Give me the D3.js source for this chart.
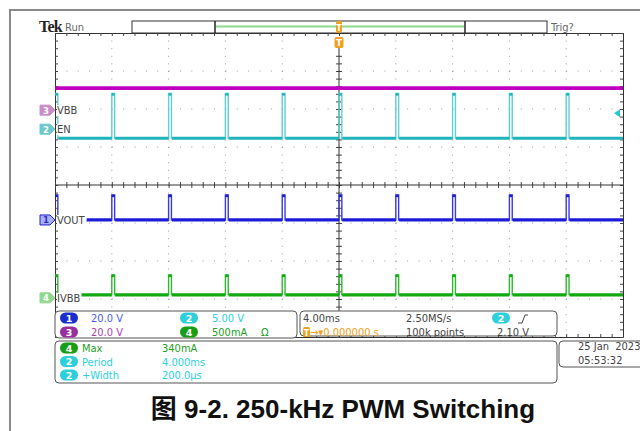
<!DOCTYPE html>
<html><head><meta charset="utf-8">
<script src="https://cdn.jsdelivr.net/npm/d3@7"></script>
<style>
html,body{margin:0;padding:0;background:#fff;}
svg{display:block;}
.mono{font-family:"DejaVu Sans Condensed","DejaVu Sans",sans-serif;font-size:11px;}
</style></head><body>
<svg id="c" width="640" height="431"></svg>
<script>
// ---- data ----
const channelNames = ["VOUT", "EN", "VBB", "IVBB"];
const channelNumbers = [1, 2, 3, 4];
const unitsPerDiv = [20, 5, 20, 500];            // V/div, V/div, V/div, mA/div
const groundDiv = [-0.92, 1.47, 1.97, -2.97];     // channel offsets (div)
const lowLevels = [0, -1.2, 11.6, 40];            // V / mA
const highLevels = [13.2, 4.7, 11.6, 303];        // V / mA
const pulseStarts = [-20, -16, -12, -8, -4, 0, 4, 8, 12, 16]; // ms
const pulseWidth = 0.2;                            // ms
const timeDomain = [-20, 20];                      // ms (4.00 ms/div)
const triggerLevel = 2.10;                         // V on CH2
const scaleRow1 = ["20.0 V", "5.00 V"];
const scaleRow2 = ["20.0 V", "500mA"];
const measNames = ["Max", "Period", "+Width"];
const measChannels = [4, 2, 2];
const measValues = ["340mA", "4.000ms", "200.0\u00b5s"];
const horizInfo = ["4.00ms", "2.50MS/s", "100k points", "2.10 V"];
const dateInfo = ["25 Jan  2023", "05:53:32"];
const caption = "图 9-2. 250-kHz PWM Switching";

// ---- style ----
const traceColors = ["#1c1cd8", "#1fb3bc", "#c000c0", "#12a812"];
const pulseColors = ["#3a3ae0", "#5fcfd6", "#c000c0", "#30b830"];
const tagFill = ["#a8b0f4", "#6cc8cc", "#c88ec8", "#8fd88f"];
const badgeFill = ["#1a2ed0", "#2dd0da", "#9a2ea0", "#169e16"];
const textColors = ["#4b5cff", "#2cd0dc", "#b040b0", "#22a022"];
const orange = "#f0a020";

const svg = d3.select("#c");
const x = d3.scaleLinear().domain(timeDomain).range([55, 623]);
const yDiv = d3.scaleLinear().domain([-4, 4]).range([337, 33]);
const yCh = i => v => yDiv(groundDiv[i] + v / unitsPerDiv[i]);

// outer frame
svg.append("path").attr("d", "M10,431V10H640").attr("fill", "none").attr("stroke", "#8a8a8a").attr("stroke-width", 2);

// ---- grid ----
const g = svg.append("g");
const majorX = d3.range(-16, 20, 4);
const majorY = d3.range(-3, 4, 1);
majorX.filter(t => t !== 0).forEach(t => {
  g.append("line").attr("x1", x(t)).attr("x2", x(t)).attr("y1", 33).attr("y2", 337)
    .attr("stroke", "#9a9a9a").attr("stroke-width", 1).attr("stroke-dasharray", "1,6.6");
});
majorY.filter(d => d !== 0).forEach(d => {
  g.append("line").attr("x1", 55).attr("x2", 623).attr("y1", yDiv(d)).attr("y2", yDiv(d))
    .attr("stroke", "#9a9a9a").attr("stroke-width", 1).attr("stroke-dasharray", "1,10.36");
});
const minorT = d3.range(-20, 20.001, 0.8);
const minorD = d3.range(-4, 4.001, 0.2);
const axStyle = s => { s.select(".domain").attr("stroke", "#333"); s.selectAll(".tick line").attr("stroke", "#444"); s.selectAll("text").remove(); };
g.append("g").attr("transform", "translate(0,33)").call(d3.axisBottom(x).tickValues(minorT).tickSize(3).tickSizeOuter(0)).call(axStyle);
g.append("g").attr("transform", "translate(0,337)").call(d3.axisTop(x).tickValues(minorT).tickSize(3).tickSizeOuter(0)).call(axStyle);
g.append("g").attr("transform", "translate(55,0)").call(d3.axisRight(yDiv).tickValues(minorD).tickSize(3).tickSizeOuter(0)).call(axStyle);
g.append("g").attr("transform", "translate(623,0)").call(d3.axisLeft(yDiv).tickValues(minorD).tickSize(3).tickSizeOuter(0)).call(axStyle);
// center cross
g.append("g").attr("transform", `translate(0,${yDiv(0) - 3})`).call(d3.axisBottom(x).tickValues(minorT).tickSize(6).tickSizeOuter(0)).call(axStyle).select(".domain").remove();
g.append("line").attr("x1", 55).attr("x2", 623).attr("y1", yDiv(0)).attr("y2", yDiv(0)).attr("stroke", "#333");
g.append("g").attr("transform", `translate(${x(0) - 3},0)`).call(d3.axisRight(yDiv).tickValues(minorD.filter(d => d < 3.6)).tickSize(6).tickSizeOuter(0)).call(axStyle).select(".domain").remove();
g.append("line").attr("x1", x(0)).attr("x2", x(0)).attr("y1", 48).attr("y2", 337).attr("stroke", "#333");

// ---- traces ----
function tracePath(i) {
  const y = yCh(i);
  const pts = [[timeDomain[0], highLevels[i]]];
  pulseStarts.forEach((t, k) => {
    if (t > timeDomain[0]) { pts.push([t, lowLevels[i]]); pts.push([t, highLevels[i]]); }
    pts.push([t + pulseWidth, highLevels[i]]);
    pts.push([t + pulseWidth, lowLevels[i]]);
  });
  pts.push([timeDomain[1], lowLevels[i]]);
  return d3.line().x(d => x(d[0])).y(d => y(d[1]))(pts);
}
function lowSegments(i) {
  const segs = [];
  pulseStarts.forEach((t, k) => {
    const end = k + 1 < pulseStarts.length ? pulseStarts[k + 1] : timeDomain[1];
    segs.push([t + pulseWidth, end]);
  });
  return segs;
}
const tr = svg.append("g");
[1, 0, 3].forEach(i => {
  const y = yCh(i);
  tr.append("path").attr("d", tracePath(i)).attr("fill", "none").attr("stroke", pulseColors[i]).attr("stroke-width", 1.4);
  lowSegments(i).forEach(s => {
    tr.append("line").attr("x1", x(s[0]) + 0.5).attr("x2", x(s[1])).attr("y1", y(lowLevels[i])).attr("y2", y(lowLevels[i]))
      .attr("stroke", traceColors[i]).attr("stroke-width", 3.2);
  });
  // pulse tops
  pulseStarts.forEach(t => {
    tr.append("line").attr("x1", x(t)).attr("x2", x(t + pulseWidth)).attr("y1", y(highLevels[i]) + 1).attr("y2", y(highLevels[i]) + 1)
      .attr("stroke", traceColors[i]).attr("stroke-width", 2.5);
  });
});
// VBB (constant)
tr.append("line").attr("x1", x(timeDomain[0])).attr("x2", x(timeDomain[1]))
  .attr("y1", yCh(2)(lowLevels[2])).attr("y2", yCh(2)(lowLevels[2])).attr("stroke", traceColors[2]).attr("stroke-width", 3.6);

// ---- channel tags + labels ----
const labelOrder = [2, 1, 0, 3];
labelOrder.forEach(i => {
  const yy = yDiv(groundDiv[i]);
  svg.append("path").attr("d", `M40,${yy - 5}H50L55,${yy}L50,${yy + 5}H40Z`)
    .attr("fill", tagFill[i]).attr("stroke", i === 0 ? "#1c1cd8" : tagFill[i]).attr("stroke-width", 1);
  svg.append("text").attr("x", 46).attr("y", yy + 3.5).attr("text-anchor", "middle")
    .attr("font-family", "DejaVu Sans").attr("font-weight", "bold").attr("font-size", 8.5)
    .attr("fill", i === 0 ? "#3030c0" : "#ffffff").text(channelNumbers[i]);
  const t = svg.append("text").attr("class", "mono").attr("x", 57).attr("y", yy + 4).attr("font-size", 11.5).attr("fill", "#444").text(channelNames[i]);
  const bb = t.node().getBBox();
  svg.insert("rect", () => t.node()).attr("x", bb.x).attr("y", bb.y + 1).attr("width", bb.width + 1).attr("height", bb.height - 2).attr("fill", "#fff");
});
// trigger level arrow (right)
const trigY = yCh(1)(triggerLevel);
svg.append("path").attr("d", `M614,${trigY}L620,${trigY - 4}V${trigY + 4}Z`).attr("fill", "#22c8d8");

// ---- top bar ----
svg.append("text").attr("x", 39).attr("y", 32).attr("font-family", "Liberation Serif").attr("font-weight", "bold")
  .attr("font-size", 16).attr("letter-spacing", -0.8).attr("fill", "#222").text("Tek");
svg.append("text").attr("class", "mono").attr("x", 65).attr("y", 31).attr("fill", "#666").text("Run");
svg.append("text").attr("class", "mono").attr("x", 551).attr("y", 31).attr("fill", "#666").text("Trig?");
svg.append("rect").attr("x", 132).attr("y", 21).attr("width", 415).attr("height", 12).attr("fill", "#fff").attr("stroke", "#333").attr("stroke-width", 1);
svg.append("line").attr("x1", 216).attr("x2", 464).attr("y1", 26.5).attr("y2", 26.5).attr("stroke", "#8cd88c").attr("stroke-width", 2);
[215, 465].forEach(xx => svg.append("line").attr("x1", xx).attr("x2", xx).attr("y1", 21).attr("y2", 33).attr("stroke", "#222").attr("stroke-width", 1.5));
// trigger position markers
function tMark(cx, y0, w, h, fs) {
  svg.append("rect").attr("x", cx - w / 2).attr("y", y0).attr("width", w).attr("height", h).attr("rx", 2).attr("fill", orange);
  svg.append("text").attr("x", cx).attr("y", y0 + h - 2).attr("text-anchor", "middle").attr("font-family", "DejaVu Sans")
    .attr("font-weight", "bold").attr("font-size", fs).attr("fill", "#fff").text("T");
}
tMark(x(0), 21, 6, 12, 8);
tMark(x(0), 37, 9, 11, 9);

// ---- info boxes ----
function box(x0, y0, w, h) {
  svg.append("rect").attr("x", x0).attr("y", y0).attr("width", w).attr("height", h).attr("rx", 4)
    .attr("fill", "#fff").attr("stroke", "#555").attr("stroke-width", 1);
}
function badge(cx, cy, n) {
  svg.append("rect").attr("x", cx - 9).attr("y", cy - 5.5).attr("width", 18).attr("height", 11).attr("rx", 5.5).attr("fill", badgeFill[n - 1]);
  svg.append("text").attr("x", cx).attr("y", cy + 3.6).attr("text-anchor", "middle").attr("font-family", "DejaVu Sans")
    .attr("font-weight", "bold").attr("font-size", 9.5).attr("fill", "#fff").text(n);
}
function txt(x0, y0, s, col) {
  return svg.append("text").attr("class", "mono").attr("x", x0).attr("y", y0).attr("fill", col).text(s);
}
box(55, 311, 242, 27);
badge(69, 318, 1); txt(91, 322, scaleRow1[0], textColors[0]);
badge(189, 318, 2); txt(212, 322, scaleRow1[1], textColors[1]);
badge(69, 332, 3); txt(91, 336, scaleRow2[0], textColors[2]);
badge(189, 332, 4); txt(212, 336, scaleRow2[1], textColors[3]); txt(261, 336, "\u03a9", textColors[3]);

box(300, 311, 257, 25);
txt(303, 322, horizInfo[0], "#444");
txt(406, 322, horizInfo[1], "#444");
badge(501, 318, 2);
svg.append("path").attr("d", "M518,323L522,323L525,315L528,315").attr("fill", "none").attr("stroke", "#444").attr("stroke-width", 1);
svg.append("rect").attr("x", 303).attr("y", 327).attr("width", 7).attr("height", 10).attr("rx", 1.5).attr("fill", orange);
svg.append("text").attr("x", 306.5).attr("y", 335.5).attr("text-anchor", "middle").attr("font-family", "DejaVu Sans").attr("font-weight", "bold").attr("font-size", 8).attr("fill", "#fff").text("T");
txt(310, 336, "\u2192\u25be0.000000 s", orange);
txt(406, 336, horizInfo[2], "#444");
txt(497, 336, horizInfo[3], "#444");

box(55, 341, 502, 42);
measNames.forEach((m, k) => {
  const cy = 348 + k * 13.5;
  const n = measChannels[k];
  badge(69, cy, n);
  txt(82, cy + 4, m, textColors[n - 1]);
  txt(162, cy + 4, measValues[k], textColors[n - 1]);
});

box(559, 341, 90, 26);
txt(578, 350, dateInfo[0], "#444").attr("xml:space", "preserve").style("white-space", "pre");
txt(578, 364, dateInfo[1], "#444");

// ---- caption ----
svg.append("text").attr("x", 343).attr("y", 418).attr("text-anchor", "middle")
  .attr("font-family", "'Liberation Sans','Noto Sans CJK SC',sans-serif").attr("font-weight", "bold")
  .attr("font-size", 26).attr("fill", "#111").text(caption);
</script>
</body></html>
